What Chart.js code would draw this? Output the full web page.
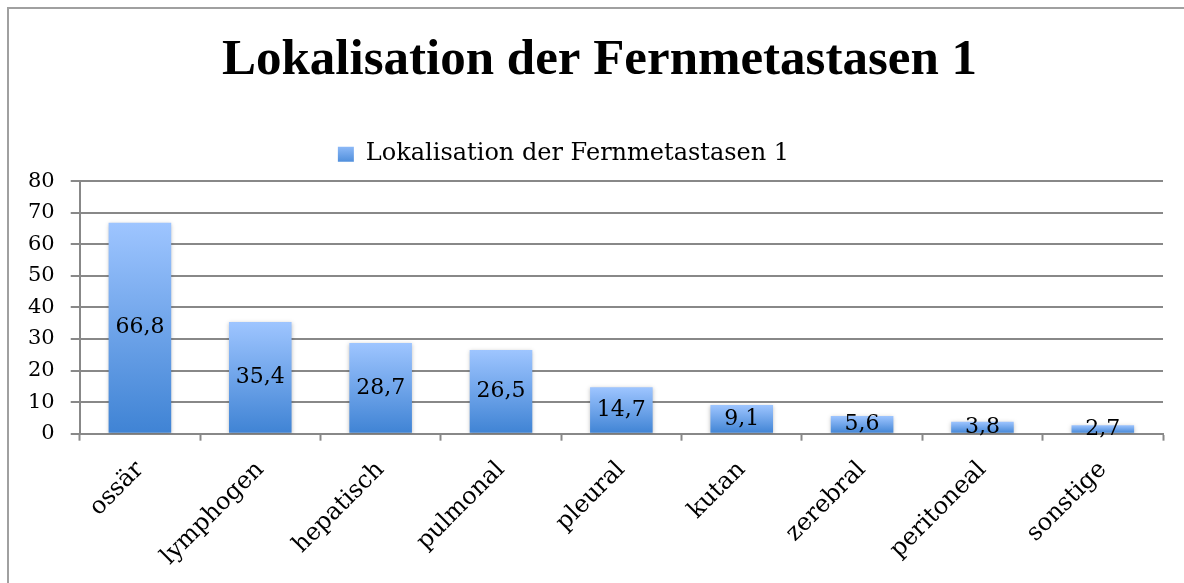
<!DOCTYPE html>
<html>
<head>
<meta charset="utf-8">
<script src="https://cdn.jsdelivr.net/npm/chart.js@4.4.1/dist/chart.umd.min.js"></script>
<style>
  html, body { margin: 0; padding: 0; background: #fff; overflow: hidden; }
  #rahmen { position: absolute; left: 7px; top: 7px; width: 1300px; height: 700px;
            border-left: 2px solid #a0a0a0; border-top: 2px solid #a0a0a0; }
  #wrap { position: absolute; left: 0; top: 0; width: 1184px; height: 583px; }
</style>
</head>
<body>
<div id="rahmen"></div>
<div id="wrap"><canvas id="Fernmetastasen"></canvas></div>
<script>
// Daten aus dem Diagramm
const titel = 'Lokalisation der Fernmetastasen 1';
const kategorien = ['ossär', 'lymphogen', 'hepatisch', 'pulmonal', 'pleural', 'kutan', 'zerebral', 'peritoneal', 'sonstige'];
const werte = [66.8, 35.4, 28.7, 26.5, 14.7, 9.1, 5.6, 3.8, 2.7];
const yAchseTicks = [0, 10, 20, 30, 40, 50, 60, 70, 80];

const serif = "'DejaVu Serif', 'Liberation Serif', serif";
const hell = '#9ec5ff';
const dunkel = '#3f83d4';

// Verlauf pro Balken: oben hell, unten dunkler
function balkenVerlauf(context) {
    const chart = context.chart;
    const { ctx, chartArea, scales } = chart;
    if (!chartArea || context.type !== 'data') return '#6fa3e8';
    const top = scales.y.getPixelForValue(context.raw);
    const basis = scales.y.getPixelForValue(0);
    const g = ctx.createLinearGradient(0, top, 0, basis);
    g.addColorStop(0, hell);
    g.addColorStop(1, dunkel);
    return g;
}

// Titel etwas nach rechts, Legende etwas nach links, mehr Platz unter der Legende
const verschieben = {
    id: 'verschieben',
    afterInit(chart) {
        const lg = chart.legend;
        if (lg) {
            const origFit = lg.fit;
            lg.fit = function () {
                origFit.call(this);
                this.height += 5;
            };
        }
    },
    afterLayout(chart) {
        if (chart.titleBlock) {
            chart.titleBlock.left += 12;
            chart.titleBlock.right += 12;
        }
        if (chart.legend) {
            chart.legend.left -= 24;
            chart.legend.right -= 24;
        }
    }
};

// Legendenkästchen bekommt auch einen Verlauf
const legendenVerlauf = {
    id: 'legendenVerlauf',
    beforeDraw(chart) {
        const lg = chart.legend;
        if (!lg || !lg.legendHitBoxes || !lg.legendHitBoxes.length) return;
        const box = lg.legendHitBoxes[0];
        const g = chart.ctx.createLinearGradient(0, box.top, 0, box.top + box.height);
        g.addColorStop(0, hell);
        g.addColorStop(1, dunkel);
        lg.legendItems[0].fillStyle = g;
    }
};

// Datenbeschriftung in der Mitte des Balkens
const werteBeschriftung = {
    id: 'werteBeschriftung',
    afterDatasetsDraw(chart) {
        const { ctx } = chart;
        const meta = chart.getDatasetMeta(0);
        ctx.save();
        ctx.font = "22px " + serif;
        ctx.fillStyle = '#000';
        ctx.textAlign = 'center';
        ctx.textBaseline = 'middle';
        meta.data.forEach((bar, i) => {
            const mitte = (bar.y + bar.base) / 2;
            ctx.fillText(werte[i].toLocaleString('de-DE'), bar.x, mitte);
        });
        ctx.restore();
    }
};

// Schatten unter den Balken
const schatten = {
    id: 'schatten',
    beforeDatasetsDraw(chart) {
        chart.ctx.save();
        chart.ctx.shadowColor = 'rgba(0,0,0,0.25)';
        chart.ctx.shadowBlur = 4;
        chart.ctx.shadowOffsetY = 1;
    },
    afterDatasetsDraw(chart) {
        chart.ctx.restore();
    }
};

new Chart(document.getElementById('Fernmetastasen'), {
    type: 'bar',
    data: {
        labels: kategorien,
        datasets: [{
            label: titel,
            data: werte,
            backgroundColor: balkenVerlauf,
            borderWidth: 0,
            categoryPercentage: 1.0,
            barPercentage: 0.52
        }]
    },
    plugins: [verschieben, legendenVerlauf, schatten, werteBeschriftung],
    options: {
        responsive: true,
        maintainAspectRatio: false,
        animation: false,
        layout: { padding: { top: 10, left: 12, right: 21, bottom: 4 } },
        plugins: {
            title: {
                display: true,
                text: titel,
                color: '#000',
                font: { family: "'Liberation Serif', serif", size: 51, weight: 'bold' },
                padding: { top: 20, bottom: 39 }
            },
            legend: {
                display: true,
                labels: {
                    color: '#000',
                    font: { family: serif, size: 24 },
                    boxWidth: 16,
                    boxHeight: 15,
                    padding: 12
                }
            },
            tooltip: { enabled: false }
        },
        scales: {
            x: {
                afterFit: (achse) => { achse.height -= 7; },
                grid: {
                    display: true,
                    drawOnChartArea: false,
                    drawTicks: true,
                    tickLength: 7,
                    tickColor: '#888',
                    tickWidth: 2,
                    offset: true
                },
                border: { color: '#888', width: 2 },
                ticks: {
                    color: '#000',
                    font: { family: serif, size: 24 },
                    maxRotation: 45,
                    minRotation: 45,
                    padding: 15,
                    autoSkip: false
                }
            },
            y: {
                min: yAchseTicks[0],
                max: yAchseTicks[yAchseTicks.length - 1],
                afterBuildTicks: (achse) => { achse.ticks = yAchseTicks.map(v => ({ value: v })); },
                grid: {
                    color: '#888',
                    lineWidth: 2,
                    tickLength: 9,
                    drawTicks: true
                },
                border: { color: '#888', width: 2 },
                ticks: {
                    color: '#000',
                    font: { family: serif, size: 21 },
                    padding: 16
                }
            }
        }
    }
});
</script>
</body>
</html>
